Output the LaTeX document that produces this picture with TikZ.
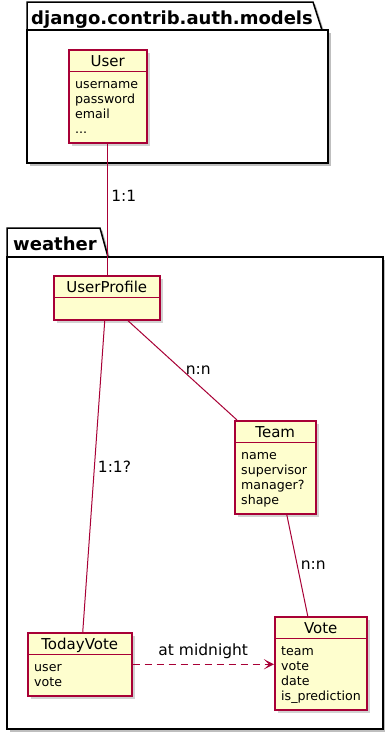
\documentclass[tikz,border=0pt]{standalone}
\usepackage{fontspec}
\setmainfont{DejaVu Sans}
\usetikzlibrary{arrows.meta,shadows}
\definecolor{umlred}{HTML}{A80036}
\definecolor{umlfill}{HTML}{FEFECE}
\begin{document}
\begin{tikzpicture}[x=1pt,y=-1pt,
  pkg/.style={draw=black,line width=1.5pt,fill=white,drop shadow={shadow xshift=2.5pt,shadow yshift=-2.5pt,opacity=0.5}},
  pkgname/.style={anchor=base west,inner sep=0pt,font=\fontsize{18}{20}\selectfont\bfseries},
  cls/.style={draw=umlred,fill=umlfill,line width=1.5pt,anchor=north west,inner sep=0pt,drop shadow={shadow xshift=3.5pt,shadow yshift=-3.5pt,opacity=0.35}},
  clsname/.style={anchor=base,inner sep=0pt,font=\fontsize{15}{18}\selectfont},
  attrs/.style={anchor=north west,inner sep=0pt,align=left,font=\fontsize{12.6}{15}\selectfont},
  assoc/.style={draw=umlred,line width=1pt},
  lbl/.style={inner sep=3pt,font=\fontsize{15.5}{18}\selectfont}]
\useasboundingbox (0,0) rectangle (385,732);
\draw[pkg] (27,30) -- (27,2) -- (313,2) -- (322,30) -- cycle;
\draw[pkg] (27,30) rectangle (328,163);
\node[pkgname] (authT) at (31,24) {django.contrib.auth.models};
\draw[pkg] (7,257) -- (7,228) -- (100,228) -- (108,257) -- cycle;
\draw[pkg] (7,257) rectangle (383,729);
\node[pkgname] (weatherT) at (13,250) {weather};

\node[cls,minimum width=78pt,minimum height=93pt] (user) at (68,49) {};
\node[cls,minimum width=106pt,minimum height=44pt] (profile) at (53,275) {};
\node[cls,minimum width=81pt,minimum height=93pt] (team) at (234,420) {};
\node[cls,minimum width=104pt,minimum height=63pt] (today) at (27,632) {};
\node[cls,minimum width=92pt,minimum height=93pt] (vote) at (274,616) {};

\draw[assoc] (user.south) -- (user.south |- profile.north) node[lbl,pos=0.4,right] {1:1};
\draw[assoc] ([xshift=21pt]profile.south) -- ([xshift=3pt]team.north west) node[lbl,midway,right] {n:n};
\draw[assoc] ([xshift=-2pt]profile.south) -- ([xshift=3pt]today.north) node[lbl,pos=0.47,right] {1:1?};
\draw[assoc] ([xshift=11.5pt]team.south) -- ([xshift=-13pt]vote.north) node[lbl,midway,right] {n:n};
\draw[assoc,dash pattern=on 7pt off 5pt,-{Stealth[length=10pt,width=10pt,inset=5pt]}] (today.east) -- (today.east -| vote.west) node[lbl,midway,above=2.5pt] {at midnight};

\foreach \c in {user,profile,team,today,vote}
  \draw[umlred,line width=1.5pt] ([yshift=-22.5pt]\c.north west) -- ([yshift=-22.5pt]\c.north east);
\node[clsname] (userT) at ([yshift=-17.5pt]user.north) {User};
\node[clsname] (profileT) at ([yshift=-17.5pt]profile.north) {UserProfile};
\node[clsname] (teamT) at ([yshift=-17.5pt]team.north) {Team};
\node[clsname] (todayT) at ([yshift=-17.5pt]today.north) {TodayVote};
\node[clsname] (voteT) at ([yshift=-17.5pt]vote.north) {Vote};
\node[attrs] (userA) at ([xshift=7pt,yshift=-28.5pt]user.north west) {\strut username\\password\\email\\...};
\node[attrs] (teamA) at ([xshift=7pt,yshift=-28.5pt]team.north west) {\strut name\\supervisor\\manager?\\shape};
\node[attrs] (todayA) at ([xshift=7pt,yshift=-28.5pt]today.north west) {\strut user\\vote};
\node[attrs] (voteA) at ([xshift=7pt,yshift=-28.5pt]vote.north west) {\strut team\\vote\\date\\is\_prediction};
\end{tikzpicture}
\end{document}
